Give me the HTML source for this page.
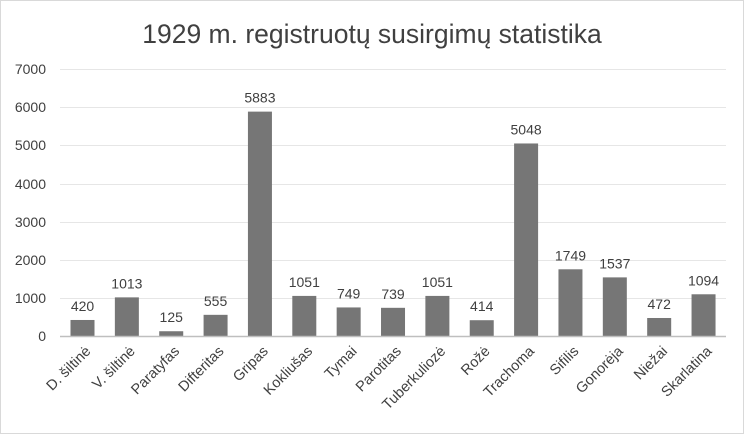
<!DOCTYPE html>
<html><head><meta charset="utf-8"><style>
body{margin:0;background:#fff}
svg{display:block;font-family:"Liberation Sans",sans-serif}
</style></head><body>
<svg width="744" height="434" viewBox="0 0 744 434" xmlns="http://www.w3.org/2000/svg">
<rect x="0.5" y="0.5" width="743" height="433" fill="#fff" stroke="#d9d9d9"/>
<text x="372" y="43" text-anchor="middle" font-size="26.5" fill="#404040">1929 m. registruotų susirgimų statistika</text>
<g stroke="#e6e6e6" stroke-width="1">
<line x1="60" x2="726" y1="69.5" y2="69.5"/><line x1="60" x2="726" y1="107.5" y2="107.5"/>
<line x1="60" x2="726" y1="145.5" y2="145.5"/><line x1="60" x2="726" y1="184.5" y2="184.5"/>
<line x1="60" x2="726" y1="222.5" y2="222.5"/><line x1="60" x2="726" y1="260.5" y2="260.5"/>
<line x1="60" x2="726" y1="298.5" y2="298.5"/>
</g>
<g font-size="14" fill="#404040" text-anchor="end">
<text x="46" y="74">7000</text><text x="46" y="112">6000</text><text x="46" y="150">5000</text>
<text x="46" y="189">4000</text><text x="46" y="227">3000</text><text x="46" y="265">2000</text>
<text x="46" y="303">1000</text><text x="46" y="341">0</text>
</g>
<g id="bars" fill="#767676"></g>
<line x1="60" x2="726" y1="336.5" y2="336.5" stroke="#bfbfbf" stroke-width="1.5"/>
<g id="vals" font-size="14" fill="#404040" text-anchor="middle"></g>
<g id="cats" font-size="14.5" fill="#404040" text-anchor="end"></g>
<script>
var d=[["D. šiltinė",420],["V. šiltinė",1013],["Paratyfas",125],["Difteritas",555],["Gripas",5883],["Kokliušas",1051],["Tymai",749],["Parotitas",739],["Tuberkuliozė",1051],["Rožė",414],["Trachoma",5048],["Sifilis",1749],["Gonorėja",1537],["Niežai",472],["Skarlatina",1094]];
var ns="http://www.w3.org/2000/svg",b=document.getElementById("bars"),v=document.getElementById("vals"),c=document.getElementById("cats");
d.forEach(function(e,i){var cx=82.5+44.36*i,h=e[1]*0.03814,y=336-h;
var r=document.createElementNS(ns,"rect");r.setAttribute("x",cx-12);r.setAttribute("y",y);r.setAttribute("width",24);r.setAttribute("height",h);b.appendChild(r);
var t=document.createElementNS(ns,"text");t.setAttribute("x",cx);t.setAttribute("y",y-9);t.textContent=e[1];v.appendChild(t);
var l=document.createElementNS(ns,"text");l.setAttribute("transform","translate("+(cx+9)+",352) rotate(-45)");l.textContent=e[0];c.appendChild(l);});
</script>
</svg>
</body></html>
